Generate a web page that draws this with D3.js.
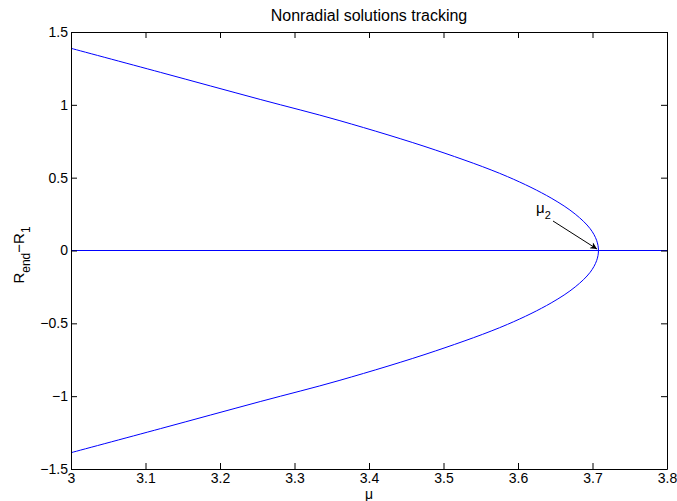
<!DOCTYPE html>
<html>
<head>
<meta charset="utf-8">
<script src="https://cdn.jsdelivr.net/npm/d3@7"></script>
<style>
  body { margin: 0; background: #fff; }
  svg { font-family: "Liberation Sans", Arial, sans-serif; }
</style>
</head>
<body>
<div id="vis"></div>
<script>
// Declare constants
const FRAME_WIDTH = 677;
const FRAME_HEIGHT = 501;
const MARGINS = {left: 71, right: 10, top: 32, bottom: 32};

const VIS_WIDTH = FRAME_WIDTH - MARGINS.left - MARGINS.right;
const VIS_HEIGHT = FRAME_HEIGHT - MARGINS.top - MARGINS.bottom;

// data: upper branch (lower branch is its mirror)
const R_VALUES = [0, 0.07, 0.15, 0.25, 0.36, 0.507, 0.690, 0.891, 1.037, 1.223, 1.388];
const MU_VALUES = [3.708, 3.7055, 3.6968, 3.6768, 3.6445, 3.586, 3.489, 3.361, 3.254, 3.120, 3.000];

// trivial branch R = 0
const TRIVIAL_MU = [3.0, 3.8];

const X_TICKS = [3, 3.1, 3.2, 3.3, 3.4, 3.5, 3.6, 3.7, 3.8];
const Y_TICKS = [-1.5, -1, -0.5, 0, 0.5, 1, 1.5];

const FRAME = d3.select("#vis")
                .append("svg")
                  .attr("width", FRAME_WIDTH)
                  .attr("height", FRAME_HEIGHT);

const X_SCALE = d3.scaleLinear().domain([3, 3.8]).range([0, VIS_WIDTH]);
const Y_SCALE = d3.scaleLinear().domain([-1.5, 1.5]).range([VIS_HEIGHT, 0]);

const G = FRAME.append("g")
               .attr("transform", "translate(" + MARGINS.left + "," + MARGINS.top + ")");

// build the full bifurcating branch, bottom to top
let branch = [];
for (let i = R_VALUES.length - 1; i > 0; i--) {
  branch.push({mu: MU_VALUES[i], r: -R_VALUES[i]});
}
for (let i = 0; i < R_VALUES.length; i++) {
  branch.push({mu: MU_VALUES[i], r: R_VALUES[i]});
}

const LINE = d3.line()
               .x((d) => X_SCALE(d.mu))
               .y((d) => Y_SCALE(d.r))
               .curve(d3.curveCatmullRom.alpha(0.5));

G.append("path")
   .datum(branch)
   .attr("d", LINE)
   .attr("fill", "none")
   .attr("stroke", "#0000ff")
   .attr("stroke-width", 1);

G.append("path")
   .datum(TRIVIAL_MU.map((m) => ({mu: m, r: 0})))
   .attr("d", LINE)
   .attr("fill", "none")
   .attr("stroke", "#0000ff")
   .attr("stroke-width", 1);

// axes (ticks inward, box on all sides)
const fmt = (d) => String(d).replace("-", "\u2212");

G.append("g")
   .attr("transform", "translate(0," + VIS_HEIGHT + ")")
   .call(d3.axisBottom(X_SCALE).tickValues(X_TICKS).tickSizeInner(-6).tickSizeOuter(0)
         .tickPadding(4).tickFormat(fmt))
   .call((g) => g.selectAll("text").attr("font-size", "14px"));

G.append("g")
   .call(d3.axisLeft(Y_SCALE).tickValues(Y_TICKS).tickSizeInner(-6).tickSizeOuter(0)
         .tickPadding(3).tickFormat(fmt))
   .call((g) => g.selectAll("text").attr("font-size", "14px"));

G.append("g")
   .call(d3.axisTop(X_SCALE).tickValues(X_TICKS).tickSizeInner(-6).tickSizeOuter(0)
         .tickFormat(""));

G.append("g")
   .attr("transform", "translate(" + VIS_WIDTH + ",0)")
   .call(d3.axisRight(Y_SCALE).tickValues(Y_TICKS).tickSizeInner(-6).tickSizeOuter(0)
         .tickFormat(""));

G.selectAll(".domain, .tick line").attr("stroke", "#000");
G.selectAll(".tick text").attr("fill", "#000");

// title and labels
FRAME.append("text")
   .attr("x", MARGINS.left + VIS_WIDTH / 2)
   .attr("y", 21)
   .attr("text-anchor", "middle")
   .attr("font-size", "16px")
   .text("Nonradial solutions tracking");

FRAME.append("text")
   .attr("x", MARGINS.left + VIS_WIDTH / 2)
   .attr("y", 499)
   .attr("text-anchor", "middle")
   .attr("font-size", "14px")
   .text("\u03bc");

const YLAB = FRAME.append("text")
   .attr("transform", "translate(24,255) rotate(-90)")
   .attr("text-anchor", "middle")
   .attr("font-size", "15px");
YLAB.append("tspan").text("R");
YLAB.append("tspan").attr("font-size", "12px").attr("dy", 6).text("end");
YLAB.append("tspan").attr("dy", -6).text("\u2212R");
YLAB.append("tspan").attr("font-size", "12px").attr("dy", 6).text("1");

// annotation mu_2 with arrow
FRAME.append("defs").append("marker")
   .attr("id", "arrow")
   .attr("viewBox", "0 0 10 10")
   .attr("refX", 10).attr("refY", 5)
   .attr("markerWidth", 10).attr("markerHeight", 7)
   .attr("markerUnits", "userSpaceOnUse")
   .attr("orient", "auto")
   .append("path")
     .attr("d", "M0,0 L10,5 L0,10 L3,5 Z")
     .attr("fill", "#000");

const TIP_X = MARGINS.left + X_SCALE(3.706);
const TIP_Y = MARGINS.top + Y_SCALE(0.01);

FRAME.append("line")
   .attr("x1", 553).attr("y1", 221)
   .attr("x2", TIP_X).attr("y2", TIP_Y)
   .attr("stroke", "#000")
   .attr("stroke-width", 1)
   .attr("marker-end", "url(#arrow)");

const ANN = FRAME.append("text")
   .attr("x", 536)
   .attr("y", 213)
   .attr("font-size", "15px");
ANN.append("tspan").text("\u03bc");
ANN.append("tspan").attr("font-size", "11px").attr("dy", 6).text("2");
</script>
</body>
</html>
